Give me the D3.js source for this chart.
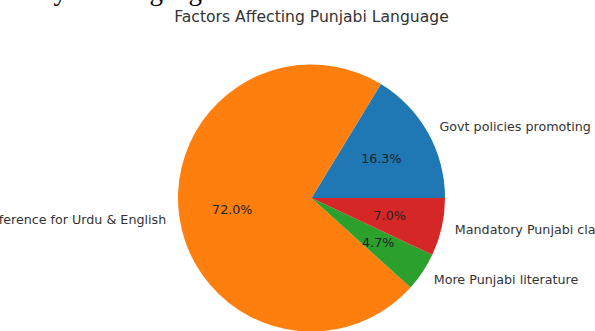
<!DOCTYPE html>
<html>
<head>
<meta charset="utf-8">
<script src="https://cdn.jsdelivr.net/npm/d3@7"></script>
<style>
  html, body { margin: 0; padding: 0; background: #fff; }
  svg { display: block; }
</style>
</head>
<body>
<svg id="chart" width="595" height="331"></svg>
<script>
// Survey factors and their shares (percent)
const categories = [
  "Govt policies promoting Punjabi",
  "Preference for Urdu & English",
  "More Punjabi literature",
  "Mandatory Punjabi classes"
];
const values = [16.3, 72.0, 4.7, 7.0];
const colors = ["#1f77b4", "#ff7f0e", "#2ca02c", "#d62728"];
const title = "Factors Affecting Punjabi Language";
const headingText = "Study on Language";

const svg = d3.select("#chart");
const cx = 311.5, cy = 198, r = 133.5;
const font = "DejaVu Sans, sans-serif";
const labelSize = 12.7;

// Heading line of the surrounding page, mostly above the visible area
svg.append("text")
  .attr("x", 4).attr("y", 0)
  .attr("font-family", "Liberation Serif, serif")
  .attr("font-size", 27)
  .attr("fill", "#000")
  .text(headingText);

svg.append("text")
  .attr("x", cx).attr("y", 22)
  .attr("text-anchor", "middle")
  .attr("font-family", font)
  .attr("font-size", 15.6)
  .attr("fill", "#333")
  .text(title);

// Counter-clockwise from 3 o'clock, matching a standard pie layout
const data = categories.map((c, i) => ({ label: c, value: values[i], color: colors[i] }));
const total = d3.sum(values);
const angle = d3.scaleLinear().domain([0, total]).range([0, 2 * Math.PI]);

let acc = 0;
const slices = data.map(d => {
  const a0 = angle(acc); acc += d.value; const a1 = angle(acc);
  return Object.assign({}, d, { a0, a1 });
});

// Convert math angle (ccw from +x) to d3 arc angle (cw from 12 o'clock)
const toD3 = a => Math.PI / 2 - a;
const arc = d3.arc().innerRadius(0).outerRadius(r);

const g = svg.append("g").attr("transform", `translate(${cx},${cy})`);

g.selectAll("path.slice")
  .data(slices)
  .join("path")
  .attr("class", "slice")
  .attr("fill", d => d.color)
  .attr("d", d => arc({ startAngle: toD3(d.a1), endAngle: toD3(d.a0) }));

// Category labels at 1.1 r
g.selectAll("text.cat")
  .data(slices)
  .join("text")
  .attr("class", "cat")
  .each(function(d) {
    const m = (d.a0 + d.a1) / 2;
    const x = 1.1 * r * Math.cos(m), y = -1.1 * r * Math.sin(m);
    d3.select(this)
      .attr("x", x).attr("y", y)
      .attr("dy", "0.35em")
      .attr("text-anchor", x >= 0 ? "start" : "end");
  })
  .attr("font-family", font)
  .attr("font-size", labelSize)
  .attr("fill", "#333")
  .text(d => d.label);

// Percentage labels at 0.6 r
g.selectAll("text.pct")
  .data(slices)
  .join("text")
  .attr("class", "pct")
  .each(function(d) {
    const m = (d.a0 + d.a1) / 2;
    d3.select(this)
      .attr("x", 0.6 * r * Math.cos(m))
      .attr("y", -0.6 * r * Math.sin(m))
      .attr("dy", "0.35em")
      .attr("text-anchor", "middle");
  })
  .attr("font-family", font)
  .attr("font-size", labelSize)
  .attr("fill", "#222")
  .text(d => d.value.toFixed(1) + "%");
</script>
</body>
</html>
